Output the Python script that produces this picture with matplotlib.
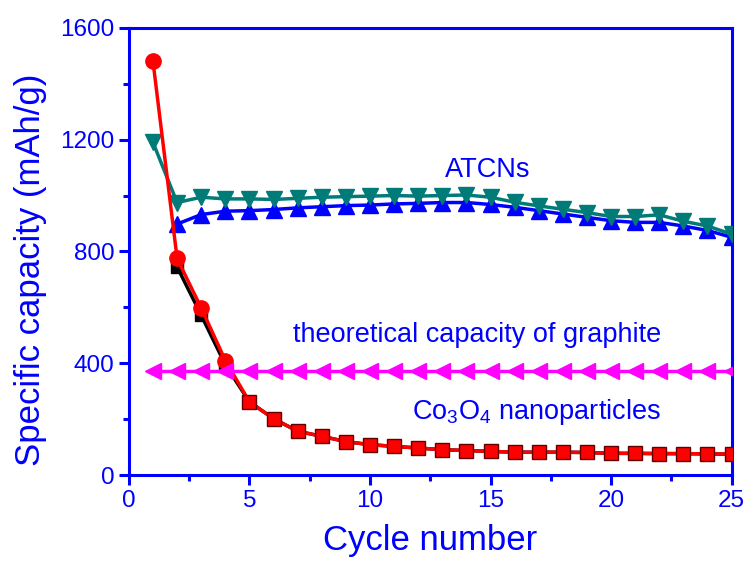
import numpy as np
import matplotlib
matplotlib.use('Agg')
import matplotlib.pyplot as plt
from matplotlib.ticker import MultipleLocator

plt.rcParams['font.family'] = ['Liberation Sans', 'DejaVu Sans']
plt.rcParams['mathtext.fontset'] = 'custom'
plt.rcParams['mathtext.rm'] = 'Liberation Sans'

# ATCNs
atcn_x = list(range(2, 26))
atcn_charge = [898, 932, 944, 946, 950, 956, 960, 964, 966, 970, 972, 975,
               975, 968, 958, 946, 934, 922, 910, 904, 904, 891, 875, 851]
atcn_dis_x = list(range(1, 26))
atcn_discharge = [1190, 975, 994, 988, 988, 986, 990, 994, 996, 998, 1000, 998,
                  1000, 1002, 994, 976, 963, 951, 939, 925, 925, 931, 908, 891, 862]

# Co3O4 nanoparticles
co_x = list(range(1, 26))
co_discharge = [1480, 775, 598, 410, 262, 202, 157, 139, 120, 109, 103, 97,
                91, 88, 85, 82, 82, 82, 81, 78, 78, 77, 77, 76, 75]
co_charge_x = list(range(2, 26))
co_charge = [745, 572, 395, 262, 202, 157, 139, 120, 109, 103, 97,
             91, 88, 85, 82, 82, 82, 81, 78, 78, 77, 77, 76, 75]

# graphite theoretical capacity
gr_x = list(range(1, 26))
gr_y = [372] * 25

BLUE = '#0000FF'


def main():
    fig = plt.figure(figsize=(7.45, 5.67), dpi=100)
    ax = fig.add_axes([0.173, 0.162, 0.809, 0.789])

    ax.plot(atcn_x, atcn_charge, '-^', color=BLUE, lw=2.5, ms=11, zorder=2)
    ax.plot(atcn_dis_x, atcn_discharge, '-v', color='#007B78', lw=2.5, ms=11, zorder=3)
    ax.plot(co_charge_x, co_charge, '-s', color='black', lw=2.5, ms=9, zorder=4)
    ax.plot(co_x, co_discharge, '-', color='#FF0000', lw=2.5, zorder=5)
    ax.plot(co_x[:4], co_discharge[:4], 'o', color='#FF0000', ms=11, zorder=6)
    ax.plot(co_x[4:], co_discharge[4:], 's', color='#FF0000', mec='#600000',
            mew=1, ms=9.5, zorder=6)
    ax.plot(gr_x, gr_y, '-<', color='#FF00FF', lw=2.5, ms=11, zorder=7)

    ax.set_xlim(0, 25)
    ax.set_ylim(0, 1600)
    ax.xaxis.set_major_locator(MultipleLocator(5))
    ax.xaxis.set_minor_locator(MultipleLocator(2.5))
    ax.yaxis.set_major_locator(MultipleLocator(400))
    ax.yaxis.set_minor_locator(MultipleLocator(200))

    for s in ax.spines.values():
        s.set_color(BLUE)
        s.set_linewidth(2.2)
    ax.tick_params(which='both', direction='out', color=BLUE, width=2.2,
                   labelcolor=BLUE, labelsize=17.5, top=False, right=False)
    ax.tick_params(which='major', length=7)
    ax.tick_params(which='minor', length=4)

    ax.set_xlabel('Cycle number', fontsize=25, color=BLUE, labelpad=9)
    ax.set_ylabel('Specific capacity (mAh/g)', fontsize=25, color=BLUE)
    ax.yaxis.set_label_coords(-0.136, 0.459)

    ax.text(14.9, 1092, 'ATCNs', fontsize=19.5, color=BLUE, ha='center', va='center')
    ax.text(14.45, 501, 'theoretical capacity of graphite', fontsize=19.5,
            color=BLUE, ha='center', va='center')
    ax.text(16.9, 225, r'Co$_3$O$_4$ nanoparticles', fontsize=19.5,
            color=BLUE, ha='center', va='center')

    fig.savefig('out.png', dpi=100)


if __name__ == '__main__':
    main()
